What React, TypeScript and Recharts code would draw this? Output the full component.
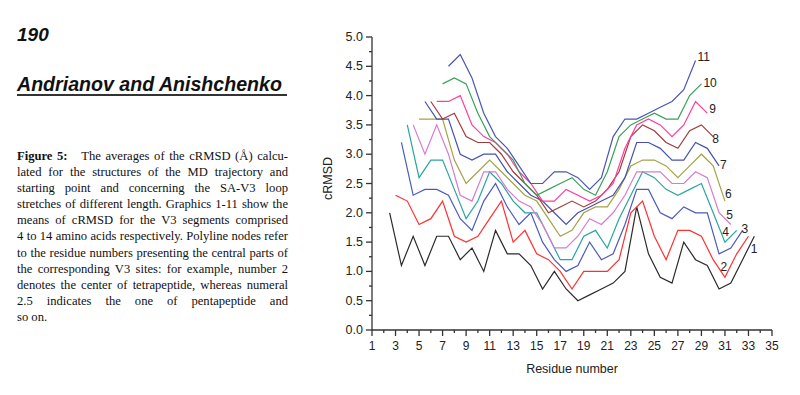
import { LineChart, Line, XAxis, YAxis, Label } from "recharts";

// segment length (amino acids) of each graphic 1-11
const segmentLengths = [4, 5, 6, 7, 8, 9, 10, 11, 12, 13, 14];

// mean cRMSD per window, first window starts at residue 1
const s1 = [2.0, 1.1, 1.6, 1.1, 1.6, 1.6, 1.2, 1.4, 1.0, 1.7, 1.3, 1.3, 1.1, 0.7, 1.0, 0.7, 0.5, 0.6, 0.7, 0.8, 1.0, 2.1, 1.3, 0.9, 0.8, 1.5, 1.2, 1.1, 0.7, 0.8, 1.2, 1.6];
const s2 = [2.3, 2.2, 1.8, 1.9, 2.2, 1.6, 1.5, 1.6, 1.9, 2.2, 1.5, 1.7, 1.3, 1.2, 1.0, 0.7, 1.0, 1.0, 1.0, 1.2, 2.0, 2.2, 1.6, 1.2, 1.7, 1.7, 1.6, 1.2, 0.9, 1.3, 1.6];
const s3 = [3.2, 2.3, 2.4, 2.4, 2.3, 1.9, 1.7, 2.2, 2.5, 2.1, 1.8, 2.0, 1.5, 1.2, 1.0, 1.1, 1.5, 1.2, 1.3, 1.8, 2.4, 2.4, 2.0, 1.9, 2.1, 2.0, 2.0, 1.3, 1.4, 1.7];
const s4 = [3.5, 2.6, 2.9, 2.9, 2.4, 1.9, 2.2, 2.7, 2.5, 2.2, 2.0, 2.0, 1.6, 1.2, 1.2, 1.6, 1.7, 1.4, 1.9, 2.3, 2.7, 2.6, 2.4, 2.3, 2.4, 2.5, 2.0, 1.5, 1.7];
const s5 = [3.5, 3.0, 3.5, 3.0, 2.3, 2.2, 2.7, 2.7, 2.4, 2.2, 2.1, 1.8, 1.4, 1.4, 1.6, 1.9, 1.8, 2.0, 2.3, 2.7, 2.7, 2.7, 2.5, 2.5, 2.7, 2.6, 2.0, 1.8];
const s6 = [3.6, 3.6, 3.6, 2.9, 2.5, 2.7, 2.9, 2.7, 2.5, 2.3, 2.2, 1.9, 1.6, 1.7, 2.0, 2.1, 2.1, 2.4, 2.8, 2.9, 2.9, 2.8, 2.6, 2.8, 3.0, 2.8, 2.2];
const s7 = [3.9, 3.6, 3.6, 3.0, 2.9, 3.0, 3.0, 2.7, 2.5, 2.3, 2.2, 2.0, 1.8, 2.0, 2.1, 2.2, 2.3, 2.6, 3.2, 3.2, 3.1, 2.9, 2.9, 3.2, 3.1, 2.8];
const s8 = [3.9, 3.6, 3.7, 3.3, 3.2, 3.2, 3.0, 2.7, 2.5, 2.3, 2.0, 2.1, 2.2, 2.1, 2.2, 2.4, 2.7, 3.3, 3.5, 3.4, 3.2, 3.1, 3.4, 3.5, 3.3];
const s9 = [3.9, 3.9, 4.0, 3.5, 3.3, 3.2, 3.0, 2.7, 2.5, 2.2, 2.2, 2.4, 2.3, 2.2, 2.3, 2.5, 3.1, 3.5, 3.6, 3.5, 3.3, 3.5, 3.9, 3.7];
const s10 = [4.2, 4.3, 4.2, 3.7, 3.3, 3.1, 2.9, 2.5, 2.3, 2.4, 2.5, 2.6, 2.4, 2.3, 2.7, 3.3, 3.5, 3.6, 3.7, 3.6, 3.6, 4.0, 4.2];
const s11 = [4.5, 4.7, 4.3, 3.7, 3.3, 3.1, 2.8, 2.5, 2.5, 2.7, 2.7, 2.6, 2.4, 2.6, 3.3, 3.6, 3.6, 3.7, 3.8, 3.9, 4.1, 4.6];

const seriesValues = [s1, s2, s3, s4, s5, s6, s7, s8, s9, s10, s11];
const seriesNames = ["1", "2", "3", "4", "5", "6", "7", "8", "9", "10", "11"];

const xTicks = Array.from({ length: 35 }, (_, i) => i + 1);
const yTicks = Array.from({ length: 21 }, (_, i) => i * 0.25);

const COLORS = ["#2b2b2b", "#ff3030", "#4b5bbd", "#2aa5a0", "#d77bd0", "#a3a345", "#4552b0", "#a33a3a", "#ff3d9a", "#3aa05a", "#4a55b5"];
// where each end label sits relative to the last node
const LABEL_OFFSETS = [
  [-3.5, 13], [-28, 31], [-1, -1], [-14.5, 2], [-4.5, -9.5], [0, -7],
  [1, -1], [-1, 2], [2, -4], [2, -1], [2, -3],
];

const SANS = '"Liberation Sans", Arial, Helvetica, sans-serif';
const SERIF = '"Liberation Serif", "Times New Roman", Times, serif';

const series = seriesValues.map((vals, k) => {
  const firstCenter = (1 + segmentLengths[k]) / 2;
  return {
    name: seriesNames[k],
    data: vals.map((v, i) => ({ r: firstCenter + i, v })),
  };
});

function XTick({ x, y, payload }: any) {
  const v = payload.value;
  const major = v % 2 === 1;
  return (
    <g>
      <line x1={x} x2={x} y1={y} y2={y + (major ? 6 : 3)} stroke="#333" strokeWidth={1.3} />
      {major && (
        <text x={x} y={y + 16} textAnchor="middle" dominantBaseline="central" fontSize={12} fill="#222" fontFamily={SANS}>
          {v}
        </text>
      )}
    </g>
  );
}

function YTick({ x, y, payload }: any) {
  const v = payload.value;
  const major = Math.abs(v * 2 - Math.round(v * 2)) < 1e-6;
  return (
    <g>
      <line x1={x - (major ? 6 : 3)} x2={x} y1={y} y2={y} stroke="#333" strokeWidth={1.3} />
      {major && (
        <text x={x - 9} y={y} textAnchor="end" dominantBaseline="central" fontSize={12.5} fill="#222" fontFamily={SANS}>
          {v.toFixed(1)}
        </text>
      )}
    </g>
  );
}

const captionLines = [
  "lated for the structures of the MD trajectory and",
  "starting point and concerning the SA-V3 loop",
  "stretches of different length. Graphics 1-11 show the",
  "means of cRMSD for the V3 segments comprised",
  "4 to 14 amino acids respectively. Polyline nodes refer",
  "to the residue numbers presenting the central parts of",
  "the corresponding V3 sites: for example, number 2",
  "denotes the center of tetrapeptide, whereas numeral",
  "2.5 indicates the one of pentapeptide and",
];

const lineStyle: any = {
  width: 271,
  height: 16.1,
  lineHeight: "16.1px",
  textAlign: "justify",
  textAlignLast: "justify",
  whiteSpace: "nowrap",
};

export default function App() {
  return (
    <div style={{ position: "absolute", left: 0, top: 0, width: 800, height: 395, background: "#fff", overflow: "hidden" }}>
      <div style={{ position: "absolute", left: 17, top: 24, fontFamily: SANS, fontWeight: 700, fontStyle: "italic", fontSize: 19, color: "#111" }}>
        190
      </div>
      <div style={{ position: "absolute", left: 17, top: 73, fontFamily: SANS, fontWeight: 700, fontStyle: "italic", fontSize: 19.6, color: "#111", whiteSpace: "nowrap" }}>
        Andrianov and Anishchenko
      </div>
      <div style={{ position: "absolute", left: 17, top: 94, width: 270, height: 2, background: "#333" }} />

      <div style={{ position: "absolute", left: 17, top: 148, fontFamily: SERIF, fontSize: 12.6, color: "#111" }}>
        <div style={lineStyle}>
          <b>Figure 5:</b>&nbsp;&nbsp; The averages of the cRMSD (Å) calcu-
        </div>
        {captionLines.map((t) => (
          <div key={t} style={lineStyle}>{t}</div>
        ))}
        <div style={{ height: 16.1, lineHeight: "16.1px" }}>so on.</div>
      </div>

      <div style={{ position: "absolute", left: 310, top: 0 }}>
        <LineChart width={490} height={395} margin={{ top: 37, right: 28, bottom: 21, left: 0 }}>
          <XAxis
            type="number"
            dataKey="r"
            domain={[1, 35]}
            ticks={xTicks}
            interval={0}
            tickSize={0}
            tickMargin={0}
            tickLine={false}
            tick={<XTick />}
            axisLine={{ stroke: "#333", strokeWidth: 1.3 }}
            height={44}
            allowDataOverflow
          >
            <Label value="Residue number" position="insideBottom" offset={1} fontSize={12.5} fill="#222" fontFamily={SANS} />
          </XAxis>
          <YAxis
            type="number"
            domain={[0, 5]}
            ticks={yTicks}
            interval={0}
            tickSize={0}
            tickMargin={0}
            tickLine={false}
            tick={<YTick />}
            axisLine={{ stroke: "#333", strokeWidth: 1.3 }}
            width={62}
            allowDataOverflow
          >
            <Label value="cRMSD" angle={-90} position="insideLeft" offset={18} dy={-5} fontSize={12.5} fill="#222" fontFamily={SANS} style={{ textAnchor: "middle" }} />
          </YAxis>
          {series.map((s, k) => (
            <Line
              key={s.name}
              data={s.data}
              dataKey="v"
              type="linear"
              stroke={COLORS[k]}
              strokeWidth={1.2}
              dot={false}
              activeDot={false}
              isAnimationActive={false}
              label={(p: any) => {
                if (p.index !== s.data.length - 1) return <g key={`e${k}-${p.index}`} />;
                const px = p.x ?? p.viewBox?.x;
                const py = p.y ?? p.viewBox?.y;
                return (
                  <text
                    key={`l${k}`}
                    x={px + LABEL_OFFSETS[k][0]}
                    y={py + LABEL_OFFSETS[k][1]}
                    dominantBaseline="central"
                    fontSize={12}
                    fill="#222"
                    fontFamily={SANS}
                  >
                    {s.name}
                  </text>
                );
              }}
            />
          ))}
        </LineChart>
      </div>
    </div>
  );
}
